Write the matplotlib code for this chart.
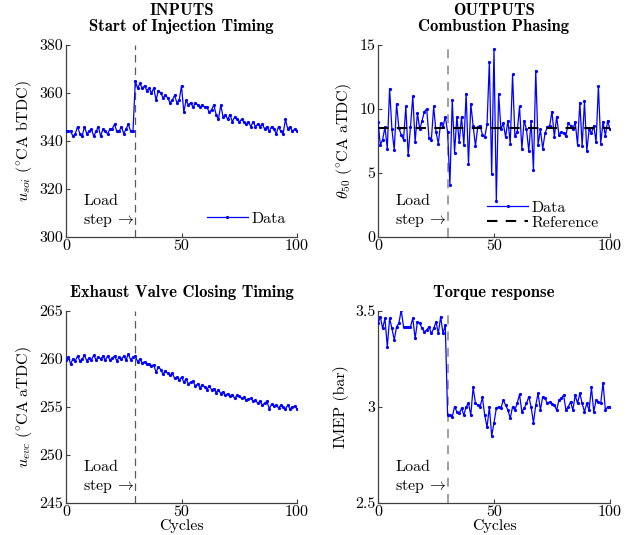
import matplotlib
matplotlib.use("Agg")
import matplotlib.pyplot as plt
import numpy as np

plt.rcParams['font.family'] = ['cmr10', 'DejaVu Serif']
plt.rcParams['mathtext.fontset'] = 'cm'
plt.rcParams['axes.formatter.use_mathtext'] = True
plt.rcParams['font.size'] = 11

cycles = list(range(101))
step_cycle = 30

soi = [344, 344, 344, 342, 343, 346, 343, 342, 346, 343, 344, 345, 342, 344, 346, 342, 345, 344, 343, 345,
       345, 347, 344, 344, 346, 343, 345, 347, 344, 344,
       365, 362, 364, 362, 363, 361, 362, 360, 362, 357, 361, 360, 358, 359, 358, 356, 357, 359, 356, 357,
       363, 352, 357, 355, 356, 354, 356, 355, 354, 355, 354, 354, 352, 353, 355, 351, 349, 355, 350, 351,
       349, 351, 348, 350, 349, 348, 349, 348, 347, 348, 346, 348, 346, 347, 346, 347, 345, 346, 344, 346,
       345, 343, 346, 344, 343, 349, 345, 346, 344, 345, 344]

theta50 = [9.0, 7.2, 7.6, 8.6, 6.9, 11.6, 8.4, 6.8, 10.4, 8.5, 8.0, 7.6, 10.2, 6.4, 8.6, 11.0, 7.4, 9.7, 8.4, 9.1,
           9.8, 10.0, 7.7, 7.6, 10.2, 8.2, 7.3, 8.9, 8.6, 9.4, 8.2, 4.1, 10.7, 6.6, 9.4, 7.4, 9.4, 7.2, 11.2, 5.7,
           10.4, 8.7, 7.1, 8.6, 8.7, 8.0, 7.8, 8.8, 13.7, 4.9, 14.7, 2.8, 11.2, 8.4, 8.9, 7.8, 9.1, 7.3, 12.7, 7.9,
           8.2, 10.2, 6.9, 9.1, 8.4, 6.7, 9.1, 5.2, 13.0, 7.2, 8.4, 6.9, 8.1, 8.6, 8.7, 9.8, 7.8, 9.4, 8.0, 8.2,
           8.1, 7.9, 8.9, 8.7, 8.4, 9.0, 7.2, 10.5, 7.1, 10.6, 6.7, 8.4, 8.1, 8.7, 7.4, 11.8, 7.3, 9.0, 7.9, 9.1, 8.4]
theta50_ref = 8.5

evc = [259.9, 260.2, 259.5, 260.0, 259.8, 260.3, 259.8, 260.0, 260.4, 259.8, 260.1, 259.9, 260.4, 259.9, 260.2,
       260.0, 260.3, 259.9, 260.3, 259.9, 260.1, 260.3, 259.8, 260.2, 260.0, 260.3, 259.9, 260.5, 259.9, 260.2,
       260.3, 259.7, 260.0, 259.6, 259.7, 259.5, 259.5, 259.3, 259.4, 258.6, 259.2, 258.9, 258.4, 258.8, 258.5,
       258.3, 258.5, 258.0, 258.1, 257.8, 258.1, 257.6, 257.9, 257.4, 257.6, 257.7, 257.2, 257.4, 257.0, 257.3,
       257.1, 256.8, 257.2, 256.8, 256.9, 256.5, 256.8, 256.4, 256.6, 256.2, 256.4, 256.1, 256.3, 255.9, 256.2,
       256.1, 255.9, 256.0, 255.7, 255.8, 255.9, 255.6, 255.7, 255.4, 255.6, 255.2, 255.4, 255.6, 254.8, 255.3,
       255.1, 255.2, 254.9, 255.2, 255.0, 254.8, 255.2, 254.8, 255.0, 255.1, 254.8]

imep = [3.436, 3.470, 3.409, 3.462, 3.314, 3.462, 3.409, 3.349, 3.418, 3.436, 3.505, 3.418, 3.418, 3.415, 3.418,
        3.462, 3.357, 3.444, 3.436, 3.409, 3.392, 3.401, 3.418, 3.383, 3.409, 3.444, 3.383, 3.470, 3.383, 3.427,
        2.958, 2.958, 2.949, 3.001, 2.975, 2.967, 2.993, 2.958, 3.001, 3.019, 2.958, 3.102, 3.019, 3.010, 3.001,
        3.050, 2.958, 2.894, 3.001, 2.849, 2.918, 2.993, 3.001, 2.993, 3.036, 3.010, 2.984, 2.941, 3.001, 2.984,
        3.019, 3.066, 2.975, 2.993, 3.019, 3.054, 3.001, 2.918, 3.010, 3.071, 2.984, 3.054, 3.045, 3.019, 3.027,
        3.015, 3.010, 2.984, 3.036, 3.045, 3.062, 2.984, 3.001, 3.027, 2.984, 3.062, 3.019, 3.071, 3.019, 2.975,
        3.019, 2.984, 3.102, 2.975, 3.036, 3.027, 3.019, 3.126, 2.984, 3.001, 3.001]

titles = ['INPUTS\nStart of Injection Timing', 'OUTPUTS\nCombustion Phasing',
          'Exhaust Valve Closing Timing', 'Torque response']
ylabels = [r'$u_{soi}\ (^{\circ}\mathrm{CA\ bTDC})$', r'$\theta_{50}\ (^{\circ}\mathrm{CA\ aTDC})$',
           r'$u_{evc}\ (^{\circ}\mathrm{CA\ aTDC})$', 'IMEP (bar)']
ylims = [(300, 380), (0, 15), (245, 265), (2.5, 3.5)]
yticks = [[300, 320, 340, 360, 380], [0, 5, 10, 15], [245, 250, 255, 260, 265], [2.5, 3, 3.5]]
yticklabels = [['300', '320', '340', '360', '380'], ['0', '5', '10', '15'],
               ['245', '250', '255', '260', '265'], ['2.5', '3', '3.5']]
series = [soi, theta50, evc, imep]
xticks = [0, 50, 100]

fig = plt.figure(figsize=(6.41, 5.35), dpi=100)
rects = [[66 / 641, 1 - 237 / 535, 231 / 641, 192 / 535],
         [378 / 641, 1 - 237 / 535, 232 / 641, 192 / 535],
         [66 / 641, 1 - 503 / 535, 231 / 641, 192 / 535],
         [378 / 641, 1 - 503 / 535, 232 / 641, 192 / 535]]

blue = '#0000ff'
for i in range(4):
    ax = fig.add_axes(rects[i])
    ax.plot(cycles, series[i], color=blue, lw=0.9, marker='.', ms=2.6, label='Data', zorder=3)
    right = i in (1, 3)
    ax.axvline(step_cycle, color='0.6' if right else '0.35', lw=1.3 if right else 0.9,
               ls=(0, (5, 4)) if right else (0, (6, 4)), zorder=2)
    if i == 1:
        ax.axhline(theta50_ref, color='k', lw=1.5, ls=(0, (5, 4)), label='Reference', zorder=4)
    ax.set_xlim(0, 100)
    ax.set_ylim(*ylims[i])
    ax.set_xticks(xticks)
    ax.set_xticklabels([str(t) for t in xticks])
    ax.set_yticks(yticks[i])
    ax.set_yticklabels(yticklabels[i])
    for s in ['top', 'right']:
        ax.spines[s].set_visible(False)
    for s in ['left', 'bottom']:
        ax.spines[s].set_color('0.25')
        ax.spines[s].set_linewidth(0.9)
    ax.tick_params(direction='in', length=3, width=0.8, color='0.25', labelsize=11.5, pad=2)
    ax.set_title(titles[i], fontfamily=['cmb10', 'DejaVu Serif'], fontsize=12, pad=10,
                 linespacing=1.1)
    ax.set_ylabel(ylabels[i], fontsize=11.5, labelpad=4)
    if i >= 2:
        ax.set_xlabel('Cycles', fontsize=11.5, labelpad=0)
    ylo, yhi = ylims[i]
    span = yhi - ylo
    ax.text(7.5, ylo + span * 0.185, 'Load', fontsize=11.5, ha='left', va='center')
    ax.text(7.5, ylo + span * 0.085, r'step $\!\rightarrow$', fontsize=11.5, ha='left', va='center')
    if i == 0:
        ax.legend(loc='lower right', frameon=False, fontsize=11.5, handlelength=2.6,
                  borderaxespad=0.3, handletextpad=0.2)
    if i == 1:
        ax.legend(loc='lower right', frameon=False, fontsize=11.5, handlelength=2.6,
                  borderaxespad=0.3, handletextpad=0.2, labelspacing=0.05,
                  bbox_to_anchor=(1.0, -0.02))

fig.savefig('out.png', dpi=100)
